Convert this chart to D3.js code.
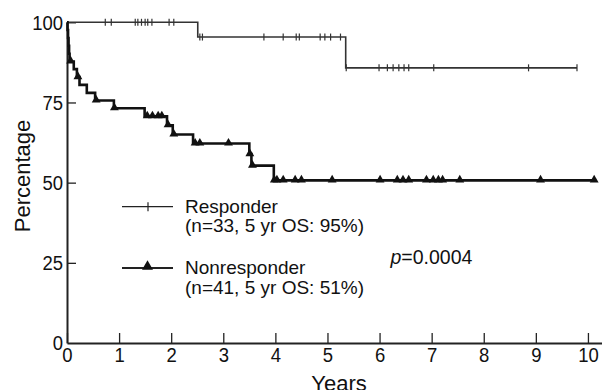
<!DOCTYPE html>
<html>
<head>
<meta charset="utf-8">
<script src="https://cdn.jsdelivr.net/npm/d3@7"></script>
<style>
  html, body { margin: 0; padding: 0; background: #fff; }
  svg { display: block; font-family: "Liberation Sans", Arial, sans-serif; }
</style>
</head>
<body>
<svg id="chart" width="602" height="390"></svg>
<script>
// ---- Data ----
const xTicks = [0, 1, 2, 3, 4, 5, 6, 7, 8, 9, 10];
const yTicks = [0, 25, 50, 75, 100];

// Responder group: event times (years) and survival (%) after each event
const responderEventTimes = [2.51, 5.35];
const responderSurvival = [95.4, 85.8];
const responderMarkTimes = [0.735, 0.85, 1.31, 1.36, 1.43, 1.50, 1.55, 1.63, 1.96, 2.05,
  2.55, 2.60, 3.78, 4.15, 4.40, 4.46, 4.86, 4.95, 5.06, 5.25,
  5.36, 5.99, 6.15, 6.26, 6.37, 6.47, 6.56, 7.04, 8.86, 9.79];
const responderEnd = 9.79;

// Nonresponder group
const nonresponderEventTimes = [0.01, 0.02, 0.03, 0.04, 0.05, 0.13, 0.19, 0.24, 0.38, 0.54,
  0.90, 1.49, 1.92, 2.03, 2.42, 3.50, 3.54, 3.97];
const nonresponderSurvival = [97.6, 95.1, 92.7, 90.2, 87.8, 85.4, 82.9, 80.5, 78.0, 75.6,
  73.2, 70.7, 67.9, 65.0, 62.2, 58.9, 55.3, 50.7];
const nonresponderMarkTimes = [0.07, 0.21, 0.56, 0.91, 1.54, 1.64, 1.75, 1.82, 1.94, 2.05,
  2.46, 2.55, 3.10, 3.51, 3.56, 3.98, 4.03, 4.15, 4.38, 4.50, 5.09, 6.01, 6.34, 6.45, 6.56,
  6.90, 7.03, 7.13, 7.21, 7.54, 9.09, 10.12];
const nonresponderEnd = 10.12;

const legendLabels = [
  ["Responder", "(n=33, 5 yr OS: 95%)"],
  ["Nonresponder", "(n=41, 5 yr OS: 51%)"]
];
const pValueText = "=0.0004";
const xTitle = "Years";
const yTitle = "Percentage";

// ---- Scales ----
const svg = d3.select("#chart");
const x = d3.scaleLinear().domain([0, 10.27]).range([67, 602]);
const y = d3.scaleLinear().domain([0, 100]).range([343, 22.3]);

// ---- Axes ----
const xAxis = d3.axisBottom(x).tickValues(xTicks).tickSizeInner(-10).tickSizeOuter(0).tickPadding(4);
const yAxis = d3.axisLeft(y).tickValues(yTicks).tickSizeInner(-9).tickSizeOuter(0).tickPadding(4);

const gx = svg.append("g").attr("transform", `translate(0,${y(0)})`).call(xAxis);
const gy = svg.append("g").attr("transform", `translate(${x(0)},0)`).call(yAxis);
[gx, gy].forEach(g => {
  g.select(".domain").attr("stroke", "#222").attr("stroke-width", 2);
  g.selectAll(".tick line").attr("stroke", "#222").attr("stroke-width", 1.3);
  g.selectAll(".tick text").attr("fill", "#111")
    .style("font-size", "18.5px").style("font-family", "Liberation Sans, Arial, sans-serif")
    .attr("transform", "scale(1,1.13)");
});
gy.selectAll(".tick").filter(d => d === 0).select("line").remove();

// ---- Survival step curves ----
function stepPoints(times, surv, end) {
  const pts = [[0, 100]];
  times.forEach((t, i) => pts.push([t, surv[i]]));
  pts.push([end, surv[surv.length - 1]]);
  return pts;
}
function survAt(times, surv, t) {
  let s = 100;
  times.forEach((tt, i) => { if (tt <= t) s = surv[i]; });
  return s;
}
const line = d3.line().x(d => x(d[0])).y(d => y(d[1])).curve(d3.curveStepAfter);

svg.append("path")
  .datum(stepPoints(responderEventTimes, responderSurvival, responderEnd))
  .attr("d", line).attr("fill", "none").attr("stroke", "#333").attr("stroke-width", 1.6);

svg.append("path")
  .datum(stepPoints(nonresponderEventTimes, nonresponderSurvival, nonresponderEnd))
  .attr("d", line).attr("fill", "none").attr("stroke", "#111").attr("stroke-width", 2.6);

// Responder "+" marks
svg.append("g").selectAll("line")
  .data(responderMarkTimes)
  .join("line")
  .attr("x1", d => x(d)).attr("x2", d => x(d))
  .attr("y1", d => y(survAt(responderEventTimes, responderSurvival, d)) - 3.5)
  .attr("y2", d => y(survAt(responderEventTimes, responderSurvival, d)) + 3.5)
  .attr("stroke", "#333").attr("stroke-width", 1.2);

// Nonresponder triangle marks
const tri = d3.symbol().type(d3.symbolTriangle).size(34);
svg.append("g").selectAll("path")
  .data(nonresponderMarkTimes)
  .join("path")
  .attr("d", tri)
  .attr("transform", d => `translate(${x(d)},${y(survAt(nonresponderEventTimes, nonresponderSurvival, d)) - 0.5})`)
  .attr("fill", "#111");

// ---- Legend ----
const lg = svg.append("g");
const legendY = [206.7, 268];
const textBase = [[212.7, 232], [274, 293.5]];
legendY.forEach((ly, i) => {
  lg.append("line").attr("x1", 122).attr("x2", 173).attr("y1", ly).attr("y2", ly)
    .attr("stroke", "#222").attr("stroke-width", i === 0 ? 1.3 : 2);
  if (i === 0) {
    lg.append("line").attr("x1", 148).attr("x2", 148).attr("y1", ly - 4.5).attr("y2", ly + 4.5)
      .attr("stroke", "#222").attr("stroke-width", 1.2);
  } else {
    lg.append("path").attr("d", d3.symbol().type(d3.symbolTriangle).size(52)())
      .attr("transform", `translate(147.5,${ly - 1.5})`).attr("fill", "#111");
  }
  legendLabels[i].forEach((txt, j) => {
    lg.append("text").attr("x", 185).attr("y", textBase[i][j])
      .attr("fill", "#111").style("font-size", "19px").text(txt);
  });
});

// p-value
const pt = svg.append("text").attr("x", 390.5).attr("y", 264).attr("fill", "#111").style("font-size", "19.5px");
pt.append("tspan").style("font-style", "italic").text("p");
pt.append("tspan").text(pValueText);

// Axis titles
svg.append("text").attr("x", 339).attr("y", 391).attr("text-anchor", "middle")
  .attr("fill", "#111").style("font-size", "22px").text(xTitle);
svg.append("text").attr("transform", "translate(29.5,176) rotate(-90)").attr("text-anchor", "middle")
  .attr("fill", "#111").style("font-size", "22px").text(yTitle);
</script>
</body>
</html>
